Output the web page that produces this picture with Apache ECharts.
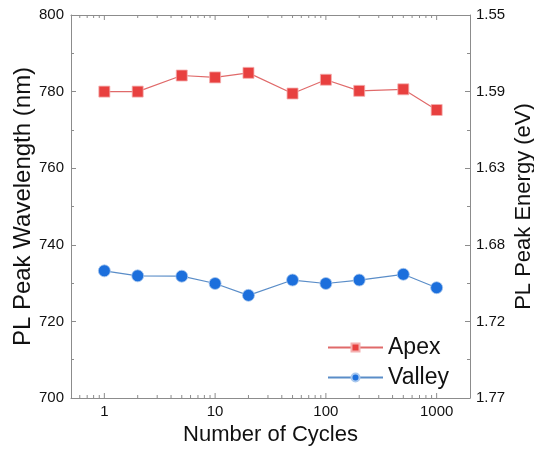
<!DOCTYPE html>
<html>
<head>
<meta charset="utf-8">
<script src="https://cdn.jsdelivr.net/npm/echarts@6/dist/echarts.min.js"></script>
<style>
  html, body { margin: 0; padding: 0; background: #fff; }
  #charts { width: 534px; height: 450px; }
</style>
</head>
<body>
<div id="charts"></div>
<script>
// 数据
const cycles = [1, 2, 5, 10, 20, 50, 100, 200, 500, 1000];
const apex = [780.0, 780.0, 784.2, 783.7, 784.9, 779.5, 783.1, 780.2, 780.6, 775.2];
const valley = [733.2, 731.9, 731.8, 729.9, 726.8, 730.8, 729.9, 730.8, 732.3, 728.8];
const xMajorTicks = [1, 10, 100, 1000];
const xMinorTicks = [0.6, 0.7, 0.8, 0.9, 2, 3, 4, 5, 6, 7, 8, 9, 20, 30, 40, 50, 60, 70, 80, 90,
    200, 300, 400, 500, 600, 700, 800, 900];
const energyLabels = ['1.55', '1.59', '1.63', '1.68', '1.72', '1.77']; // 800 -> 700

const font = 'Liberation Sans, Arial, sans-serif';
const frameColor = '#8c8c8c';

// 对数轴刻度（上下两条边），通过坐标系换算位置
function tickSeries(values, len) {
    return {
        type: 'custom',
        xAxisIndex: 0,
        yAxisIndex: 0,
        silent: true,
        clip: false,
        z: 1,
        data: values.map(v => [v]),
        renderItem: function (params, api) {
            const x = api.value(0);
            const b = api.coord([x, 700]);
            const t = api.coord([x, 800]);
            const style = { stroke: frameColor, lineWidth: 1 };
            return {
                type: 'group',
                children: [
                    { type: 'line', shape: { x1: b[0], y1: b[1], x2: b[0], y2: b[1] - len }, style: style },
                    { type: 'line', shape: { x1: t[0], y1: t[1], x2: t[0], y2: t[1] + len }, style: style }
                ]
            };
        }
    };
}

const option = {
    animation: false,
    grid: { left: 71, right: 64, top: 15, bottom: 52, outerBoundsMode: 'none', containLabel: false },
    legend: {
        orient: 'vertical',
        left: 327,
        top: 336,
        padding: 0,
        itemWidth: 55,
        itemHeight: 10,
        itemGap: 7,
        textStyle: { fontFamily: font, fontSize: 23, color: '#111' },
        data: ['Apex', 'Valley']
    },
    xAxis: [{
        type: 'log',
        logBase: 10,
        min: 0.5,
        max: 2000,
        position: 'bottom',
        name: 'Number of Cycles',
        nameLocation: 'middle',
        nameGap: 26,
        nameMoveOverlap: false,
        nameTextStyle: { fontFamily: font, fontSize: 22, color: '#111' },
        axisLine: { show: true, lineStyle: { color: frameColor, width: 1 } },
        axisTick: { show: false },
        axisLabel: {
            fontFamily: font, fontSize: 15, color: '#111', margin: 6,
            showMinLabel: false, showMaxLabel: false,
            formatter: function (v) { return xMajorTicks.indexOf(v) >= 0 ? String(v) : ''; }
        },
        splitLine: { show: false }
    }, {
        type: 'log',
        logBase: 10,
        min: 0.5,
        max: 2000,
        position: 'top',
        axisLine: { show: true, lineStyle: { color: frameColor, width: 1 } },
        axisTick: { show: false },
        axisLabel: { show: false },
        splitLine: { show: false }
    }],
    yAxis: [{
        type: 'value',
        min: 700,
        max: 800,
        interval: 20,
        position: 'left',
        name: 'PL Peak Wavelength (nm)',
        nameLocation: 'middle',
        nameGap: 36,
        nameRotate: 90,
        nameMoveOverlap: false,
        nameTextStyle: { fontFamily: font, fontSize: 24, color: '#111' },
        axisLine: { show: true, lineStyle: { color: frameColor, width: 1 } },
        axisTick: { show: true, inside: true, length: 5, lineStyle: { color: frameColor } },
        minorTick: { show: true, splitNumber: 2, length: 3, lineStyle: { color: frameColor } },
        axisLabel: { fontFamily: font, fontSize: 15, color: '#111', margin: 7 },
        splitLine: { show: false }
    }, {
        type: 'value',
        min: 700,
        max: 800,
        interval: 20,
        position: 'right',
        name: 'PL Peak Energy (eV)',
        nameLocation: 'middle',
        nameGap: 43,
        nameRotate: 90,
        nameMoveOverlap: false,
        nameTextStyle: { fontFamily: font, fontSize: 22, color: '#111' },
        axisLine: { show: true, lineStyle: { color: frameColor, width: 1 } },
        axisTick: { show: true, inside: true, length: 5, lineStyle: { color: frameColor } },
        minorTick: { show: true, splitNumber: 2, length: 3, lineStyle: { color: frameColor } },
        axisLabel: {
            fontFamily: font, fontSize: 15, color: '#111', margin: 6,
            formatter: function (v) { return energyLabels[Math.round((800 - v) / 20)]; }
        },
        splitLine: { show: false }
    }],
    series: [
        tickSeries(xMajorTicks, 5),
        tickSeries(xMinorTicks, 3),
        {
            name: 'Apex',
            type: 'line',
            xAxisIndex: 0,
            yAxisIndex: 0,
            data: cycles.map((c, i) => [c, apex[i]]),
            symbol: 'rect',
            symbolSize: 11,
            z: 3,
            itemStyle: { color: '#e8403f', borderColor: '#f4b0b0', borderWidth: 0.8 },
            lineStyle: { color: '#e06a6a', width: 1.2 }
        }, {
            name: 'Valley',
            type: 'line',
            xAxisIndex: 0,
            yAxisIndex: 0,
            data: cycles.map((c, i) => [c, valley[i]]),
            symbol: 'circle',
            symbolSize: 12,
            z: 3,
            itemStyle: { color: '#1c6fdc', borderColor: '#a9c8ee', borderWidth: 0.8 },
            lineStyle: { color: '#5a8dc8', width: 1.2 }
        }
    ]
};
const chart = echarts.init(document.getElementById('charts'));
chart.setOption(option);
</script>
</body>
</html>
